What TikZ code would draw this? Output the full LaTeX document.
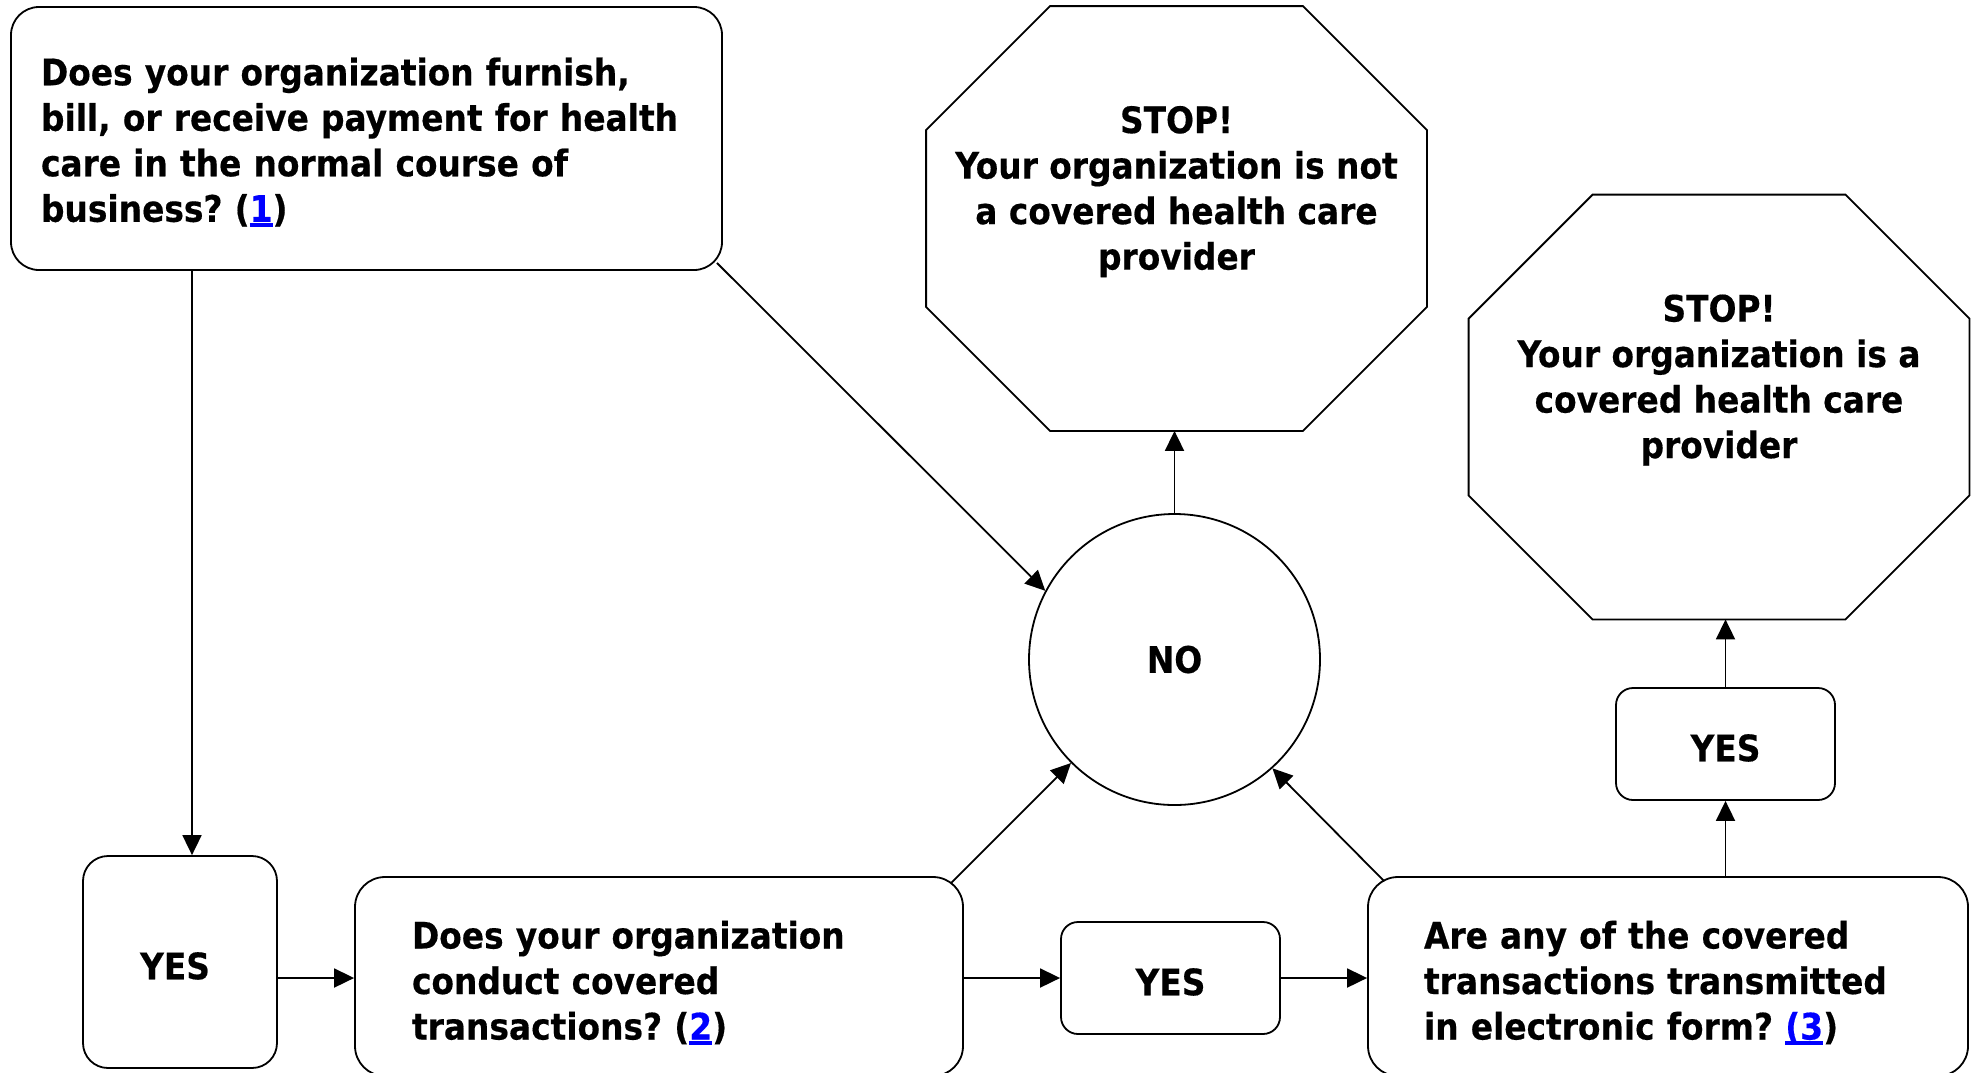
\documentclass[tikz,border=0pt]{standalone}
\usepackage{fontspec}
\setmainfont{DejaVu Sans Condensed}[BoldFeatures={FakeBold=0.4}]
\usetikzlibrary{arrows.meta}

\definecolor{linkblue}{RGB}{0,0,255}
\newcommand{\reflink}[1]{\textcolor{linkblue}{\setbox0\hbox{#1}\rlap{\rule[-5pt]{\wd0}{3.5pt}}\box0}}
\frenchspacing

\tikzset{
	every node/.style={font=\fontsize{36.5}{45.5}\selectfont\bfseries},
	question/.style={draw, rounded corners=30pt, align=left, inner ysep=0pt, minimum height=199pt,
		execute at begin node={\rule{0pt}{#1}}},
	question/.default=40pt,
	answer/.style={draw, rounded corners=17pt, inner sep=0pt, minimum width=219pt, minimum height=112pt, text height=35pt},
	stopframe/.style={inner sep=0pt, minimum width=499pt, minimum height=423pt},
	stoptext/.style={align=center, inner sep=0pt, anchor=north},
	nocircle/.style={draw, circle, inner sep=0pt, minimum size=291pt}
}

\begin{document}
\begin{tikzpicture}[x=1pt, y=1pt, line width=1.8pt, >={Triangle[length=20pt,width=19pt]}]
	\useasboundingbox (0,0) rectangle (1975,-1072);
	\node[question=35pt, rounded corners=28pt, text width=651pt, inner xsep=30pt, minimum height=263pt] (furnish) at (366.5,-138.5)
		{Does your organization furnish,\\bill, or receive payment for health\\care in the normal course of\\business? (\reflink{1})};
	\node[question, text width=494pt, inner xsep=57pt] (conduct) at (659,-976.5)
		{Does your organization\\conduct covered\\transactions? (\reflink{2})};
	\node[question, text width=488pt, inner xsep=56pt] (electronic) at (1668,-976.5)
		{Are any of the covered\\transactions transmitted\\in electronic form? \reflink{(3})};
	\node[answer, rounded corners=25pt, minimum width=194pt, minimum height=212pt] (yesa) at (180,-962) {YES\hspace*{10pt}};
	\node[answer] (yesb) at (1170.5,-978) {YES};
	\node[answer] (yesc) at (1725.5,-744) {YES};
	\node[nocircle] (no) at (1174.5,-659.5) {NO};
	\node[stopframe] (nostop) at (1176.5,-218.5) {};
	\node[stopframe] (yesstop) at (1719,-407) {};
	\node[stoptext] (nostoptext) at ([yshift=-99pt]nostop.north)
		{STOP!\\Your organization is not\\a covered health care\\provider};
	\node[stoptext] (yesstoptext) at ([yshift=-99pt]yesstop.north)
		{STOP!\\Your organization is a\\covered health care\\provider};
	% stop signs
	\foreach \s in {nostop,yesstop}
		\draw ([xshift=124pt]\s.south west) -- ([xshift=-124pt]\s.south east) -- ([yshift=124pt]\s.south east)
			-- ([yshift=-124pt]\s.north east) -- ([xshift=-124pt]\s.north east) -- ([xshift=124pt]\s.north west)
			-- ([yshift=-124pt]\s.north west) -- ([yshift=124pt]\s.south west) -- cycle;
	\path[->]
		([xshift=12pt]yesa.north |- furnish.south) edge ([xshift=12pt]yesa.north)
		([shift={(-6pt,8pt)}]furnish.south east) edge (no.152.5)
		(no.north) edge (no.north |- nostop.south)
		([shift={(-13pt,-7pt)}]conduct.north east) edge (no.225)
		([shift={(17pt,-5pt)}]electronic.north west) edge (no.312)
		(yesa.east |- yesb.west) edge (conduct.west |- yesb.west)
		(conduct.east |- yesb.west) edge (yesb.west)
		(yesb.east) edge (yesb.east -| electronic.west)
		(yesc.south |- electronic.north) edge (yesc.south)
		(yesc.north) edge (yesc.north |- yesstop.south);
\end{tikzpicture}
\end{document}
